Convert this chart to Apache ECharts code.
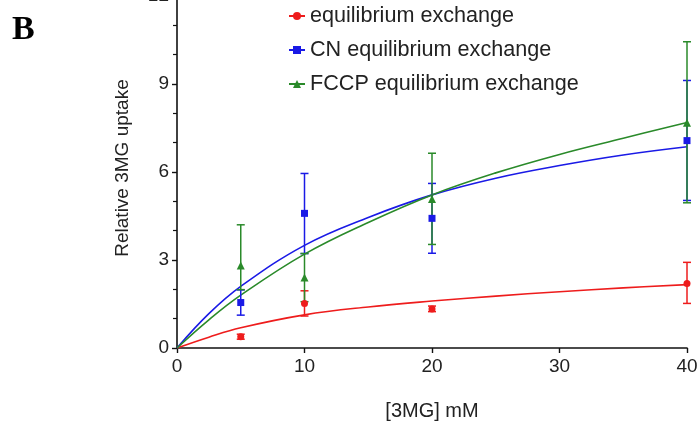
<!DOCTYPE html>
<html>
<head>
<meta charset="utf-8">
<script src="https://cdn.jsdelivr.net/npm/echarts@6/dist/echarts.min.js"></script>
<style>
html,body{margin:0;padding:0;background:#fff;}
#chart{width:698px;height:421px;}
</style>
</head>
<body>
<div id="chart"></div>
<script>
// ---- data ----
const seriesNames = ['equilibrium exchange', 'CN equilibrium exchange', 'FCCP equilibrium exchange'];
const concentrations = [5, 10, 20, 40];

const ctrlMean = [0.38, 1.52, 1.33, 2.20];
const ctrlLow  = [0.30, 1.09, 1.24, 1.52];
const ctrlHigh = [0.47, 1.95, 1.43, 2.92];

const cnMean = [1.55, 4.59, 4.42, 7.07];
const cnLow  = [1.12, 3.22, 3.23, 5.03];
const cnHigh = [1.98, 5.95, 5.61, 9.12];

const fccpMean = [2.81, 2.40, 5.08, 7.68];
const fccpLow  = [1.99, 1.58, 3.53, 4.95];
const fccpHigh = [4.20, 3.22, 6.64, 10.44];

// fitted curves
const curveX    = [0, 2.5, 5, 10, 15, 20, 25, 30, 35, 40];
const ctrlCurve = [0, 0.37, 0.69, 1.13, 1.40, 1.60, 1.77, 1.92, 2.05, 2.16];
const cnCurve   = [0, 1.17, 2.10, 3.50, 4.45, 5.22, 5.79, 6.22, 6.58, 6.86];
const fccpCurve = [0, 0.96, 1.80, 3.20, 4.28, 5.22, 5.97, 6.60, 7.15, 7.69];

const xTicks = [0, 10, 20, 30, 40];
const yTicks = [0, 3, 6, 9, 12];

const colors = ['#ee1c1c', '#1a1ae6', '#2a8a2a'];
const symbols = ['circle', 'rect', 'triangle'];

function pairs(xs, ys) { return xs.map((x, i) => [x, ys[i]]); }
function triples(xs, lo, hi) { return xs.map((x, i) => [x, lo[i], hi[i]]); }

const means = [ctrlMean, cnMean, fccpMean];
const lows = [ctrlLow, cnLow, fccpLow];
const highs = [ctrlHigh, cnHigh, fccpHigh];
const curves = [ctrlCurve, cnCurve, fccpCurve];

const chart = echarts.init(document.getElementById('chart'), null, {renderer: 'canvas'});

const series = [];
for (let k = 0; k < 3; k++) {
  series.push({
    name: seriesNames[k], type: 'line', data: pairs(curveX, curves[k]),
    smooth: 0.4, symbol: symbols[k], symbolSize: 7, showSymbol: false,
    lineStyle: {color: colors[k], width: 1.6}, itemStyle: {color: colors[k]},
    z: 2, silent: true
  });
}
for (let k = 0; k < 3; k++) {
  const col = colors[k];
  series.push({
    name: seriesNames[k], type: 'custom', data: triples(concentrations, lows[k], highs[k]),
    encode: {x: 0, y: [1, 2]}, z: 3,
    renderItem: function (params, api) {
      const x = api.value(0);
      const p1 = api.coord([x, api.value(1)]);
      const p2 = api.coord([x, api.value(2)]);
      const w = 4;
      const st = {stroke: col, lineWidth: 1.5};
      return {type: 'group', children: [
        {type: 'line', shape: {x1: p1[0], y1: p1[1], x2: p2[0], y2: p2[1]}, style: st},
        {type: 'line', shape: {x1: p1[0] - w, y1: p1[1], x2: p1[0] + w, y2: p1[1]}, style: st},
        {type: 'line', shape: {x1: p2[0] - w, y1: p2[1], x2: p2[0] + w, y2: p2[1]}, style: st}
      ]};
    }
  });
}
for (let k = 0; k < 3; k++) {
  series.push({
    name: seriesNames[k], type: 'scatter', data: pairs(concentrations, means[k]),
    symbol: symbols[k], symbolSize: k === 2 ? 8 : 7, itemStyle: {color: colors[k], opacity: 1}, z: 4
  });
}

const option = {
  animation: false,
  backgroundColor: '#ffffff',
  textStyle: {fontFamily: 'Liberation Sans, Arial, sans-serif'},
  grid: {left: 177, right: 11, top: -4, bottom: 73, containLabel: false, outerBoundsMode: 'none'},
  legend: {
    data: seriesNames, orient: 'vertical', left: 283, top: -1,
    itemGap: 10, itemWidth: 16, itemHeight: 10,
    textStyle: {fontSize: 21.6, color: '#222', lineHeight: 24, fontFamily: 'Liberation Sans, Arial, sans-serif'}
  },
  xAxis: {
    type: 'value', min: 0, max: 40, interval: 10,
    name: '[3MG] mM', nameLocation: 'middle', nameGap: 53,
    nameTextStyle: {fontSize: 20, color: '#222'},
    axisLine: {show: true, lineStyle: {color: '#111', width: 1.6}},
    axisTick: {show: true, length: 5, lineStyle: {color: '#111', width: 1.4}},
    axisLabel: {fontSize: 19, color: '#222', margin: 9, formatter: v => xTicks.includes(v) ? String(v) : ''},
    splitLine: {show: false}
  },
  yAxis: {
    type: 'value', min: 0, max: 12, interval: 3,
    name: 'Relative 3MG uptake', nameLocation: 'middle', nameGap: 45, nameRotate: 90,
    nameTextStyle: {fontSize: 19, color: '#222', padding: [0, 0, 0, 8]},
    axisLine: {show: true, onZero: false, lineStyle: {color: '#111', width: 1.6}},
    axisTick: {show: true, length: 5, lineStyle: {color: '#111', width: 1.4}},
    minorTick: {show: true, splitNumber: 3, length: 4, lineStyle: {color: '#111', width: 1.2}},
    axisLabel: {fontSize: 19, color: '#222', margin: 8, formatter: v => yTicks.includes(v) ? String(v) : ''},
    splitLine: {show: false}
  },
  graphic: [{
    type: 'text', left: 12, top: 13,
    style: {text: 'B', font: 'bold 34px "Liberation Serif", "DejaVu Serif", serif', fill: '#000'}
  }],
  series: series
};
chart.setOption(option);
</script>
</body>
</html>
